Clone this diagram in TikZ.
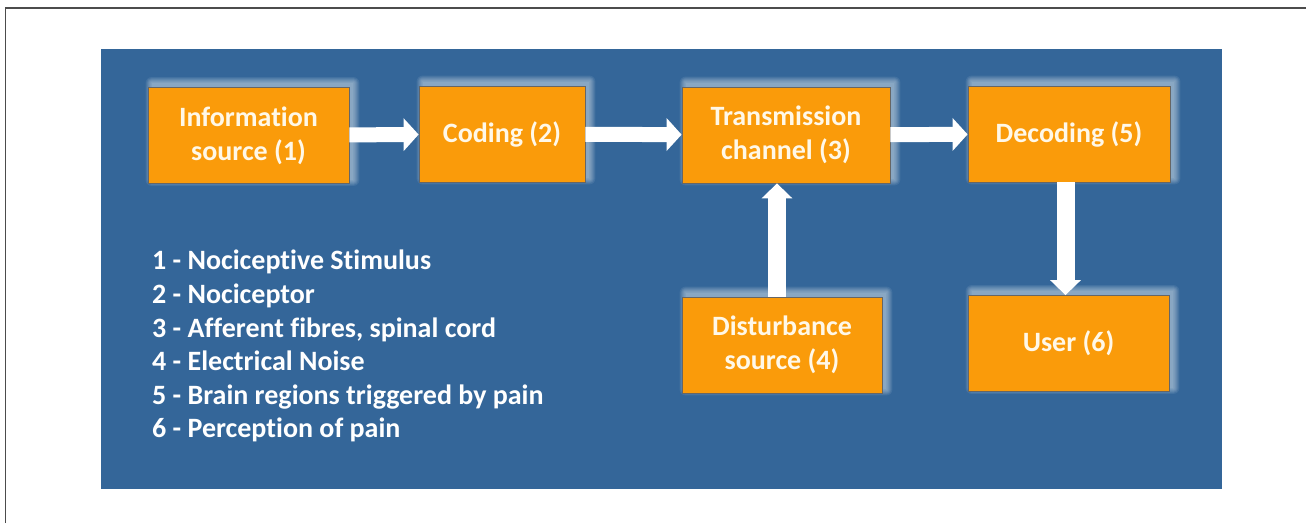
\documentclass[tikz,border=0pt]{standalone}
\usepackage{fontspec}
\setmainfont{Carlito}[Ligatures={NoCommon}]
\usetikzlibrary{arrows.meta, positioning, backgrounds}

\definecolor{panelblue}{RGB}{52,102,153}
\definecolor{boxorange}{RGB}{250,155,10}
\definecolor{boxtext}{RGB}{255,248,232}

% soft white glow, shifted up and right
\newcommand{\boxglow}[1]{%
  \foreach \r in {0,1,...,6}
    \fill[white, opacity=0.08, rounded corners=\r pt]
      ([shift={(4+\r,-4-\r)}]#1.north east) rectangle ([shift={(4-\r,-4+\r)}]#1.south west);
}

\begin{document}
\begin{tikzpicture}[
  x=1pt, y=-1pt,
  box/.style={rectangle, draw=black!60, line width=0.8pt, fill=boxorange,
              minimum width=#1, minimum height=96pt, inner sep=0pt,
              align=center, text=boxtext,
              font=\fontsize{28}{34}\selectfont\bfseries},
  box/.default=200pt,
  arrow/.style={-{Triangle[length=15pt, width=32pt]}, white, line width=15pt},
  uparrow/.style={-{Triangle[length=15pt, width=30pt]}, white, line width=18pt},
  legend/.style={align=left, text=white, inner sep=0pt,
                 font=\fontsize{28}{33.6}\selectfont\bfseries}
]
\useasboundingbox (0,0) rectangle (1306,523);

% top row
\node[box=201pt] (source)   at (248.5,135.5) {Information\\source (1)};
\node[box=166pt] (coding)   at (502,134)     {Coding (2)};
\node[box=208pt] (channel)  at (786,135)     {Transmission\\channel (3)};
\node[box=202pt] (decoding) at (1069,134)    {Decoding (5)};

% bottom row
\node[box=200pt] (noise) at (782,345)    {Disturbance\\source (4)};
\node[box=201pt] (user)  at (1068.5,343.5) {User (6)};

% frame, panel and glow behind the boxes
\begin{scope}[on background layer]
  \draw[black!70, line width=1.5pt] (5.5,523) -- (5.5,8) -- (1306,8);
  \fill[panelblue] (101,49) rectangle (1222,489);
  \foreach \n in {source, coding, channel, decoding, noise, user}
    \boxglow{\n};
\end{scope}

\draw[arrow] (source)  -- (coding);
\draw[arrow] (coding)  -- (channel);
\draw[arrow] (channel) -- (decoding);
\draw[uparrow] ([xshift=-5pt]noise.north) -- ([xshift=-5pt]noise.north |- channel.south);
\draw[uparrow] ([xshift=-3.5pt]decoding.south) -- ([xshift=-3.5pt]decoding.south |- user.north);

% legend
\node[legend, anchor=north west] (key) at (152,250) {%
  1 - Nociceptive Stimulus\\
  2 - Nociceptor\\
  3 - Afferent fibres, spinal cord\\
  4 - Electrical Noise\\
  5 - Brain regions triggered by pain\\
  6 - Perception of pain};

\end{tikzpicture}
\end{document}
